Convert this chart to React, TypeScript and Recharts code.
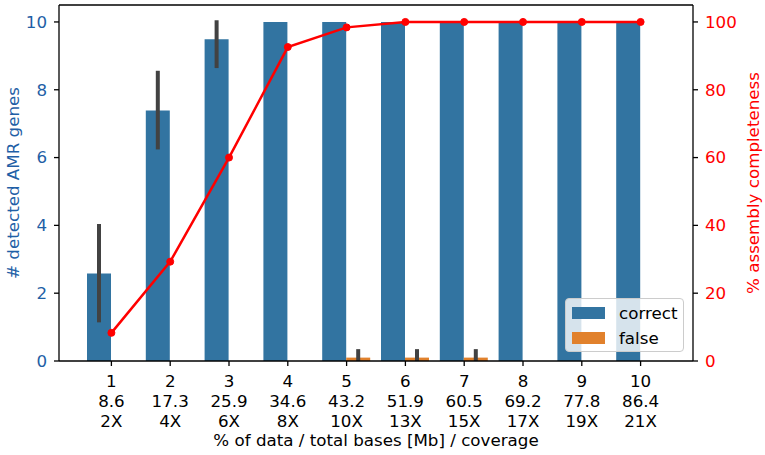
import React from 'react';
import {
  ComposedChart,
  Bar,
  Line,
  XAxis,
  YAxis,
  ErrorBar,
  ReferenceLine,
  Label,
} from 'recharts';

// values
const percentData = ['1', '2', '3', '4', '5', '6', '7', '8', '9', '10'];
const totalBases = ['8.6', '17.3', '25.9', '34.6', '43.2', '51.9', '60.5', '69.2', '77.8', '86.4'];
const coverage = ['2X', '4X', '6X', '8X', '10X', '13X', '15X', '17X', '19X', '21X'];

const correctGenes = [2.58, 7.39, 9.49, 10, 10, 10, 10, 10, 10, 10];
// [below, above] the mean
const correctErr = [[1.44, 1.46], [1.15, 1.17], [0.85, 0.56], [0, 0], [0, 0], [0, 0], [0, 0], [0, 0], [0, 0], [0, 0]];
const falseGenes = [0, 0, 0, 0, 0.1, 0.1, 0.1, 0, 0, 0];
const falseErr = [[0, 0], [0, 0], [0, 0], [0, 0], [0.1, 0.25], [0.1, 0.25], [0.1, 0.25], [0, 0], [0, 0], [0, 0]];
const completeness = [8.3, 29.3, 60.0, 92.6, 98.4, 100, 100, 100, 100, 100];

const leftTicks = [0, 2, 4, 6, 8, 10];
const rightTicks = [0, 20, 40, 60, 80, 100];

const data = percentData.map((p, i) => ({
  pct: p,
  correct: correctGenes[i],
  correctErr: correctErr[i],
  false: falseGenes[i],
  falseErr: falseErr[i],
  completeness: completeness[i],
}));

const BLUE = '#3274a1';
const ORANGE = '#e1812c';
const AXIS_BLUE = '#1f5fa6';
const RED = '#ff0000';
const FONT = '"DejaVu Sans", sans-serif';
const FS = 16.7;

function MultiLineTick(props: any) {
  const { x, y, payload } = props;
  const i = payload.index;
  return (
    <text x={x} y={y} textAnchor="middle" fill="#000" fontSize={FS} fontFamily={FONT}>
      <tspan x={x} dy={19}>{percentData[i]}</tspan>
      <tspan x={x} dy={20}>{totalBases[i]}</tspan>
      <tspan x={x} dy={20}>{coverage[i]}</tspan>
    </text>
  );
}

const legendItems = [
  { name: 'correct', color: BLUE },
  { name: 'false', color: ORANGE },
];

export default function App() {
  return (
    <div style={{ position: 'absolute', left: 0, top: 0, width: 765, height: 455, background: '#fff' }}>
      <ComposedChart
        width={765}
        height={455}
        data={data}
        margin={{ top: 5, right: 0, left: 0, bottom: 0 }}
        barGap={0}
      >
        <XAxis
          dataKey="pct"
          height={94}
          padding={{ left: 23, right: 23 }}
          tickSize={5}
          tickMargin={2}
          stroke="#000"
          strokeWidth={1.3}
          tick={<MultiLineTick />}
          interval={0}
        >
          <Label
            content={({ viewBox }: any) => (
              <text
                x={viewBox.x + viewBox.width / 2}
                y={viewBox.y + 85}
                textAnchor="middle"
                fontSize={FS}
                fontFamily={FONT}
                fill="#000"
              >
                % of data / total bases [Mb] / coverage
              </text>
            )}
          />
        </XAxis>
        <YAxis
          yAxisId="left"
          width={59}
          domain={[0, 10.5]}
          ticks={leftTicks}
          tickSize={5}
          tickMargin={7}
          stroke="#000"
          strokeWidth={1.3}
          tick={{ fill: AXIS_BLUE, fontSize: FS, fontFamily: FONT }}
        >
          <Label
            content={({ viewBox }: any) => {
              const cx = viewBox.x + 19;
              const cy = viewBox.y + viewBox.height / 2;
              return (
                <text
                  x={cx}
                  y={cy}
                  transform={`rotate(-90 ${cx} ${cy})`}
                  textAnchor="middle"
                  fontSize={FS}
                  fontFamily={FONT}
                  fill={AXIS_BLUE}
                >
                  # detected AMR genes
                </text>
              );
            }}
          />
        </YAxis>
        <YAxis
          yAxisId="right"
          orientation="right"
          width={72}
          domain={[0, 105]}
          ticks={rightTicks}
          tickSize={5}
          tickMargin={7}
          stroke="#000"
          strokeWidth={1.3}
          tick={{ fill: RED, fontSize: FS, fontFamily: FONT }}
        >
          <Label
            content={({ viewBox }: any) => {
              const cx = viewBox.x + 66;
              const cy = viewBox.y + viewBox.height / 2;
              return (
                <text
                  x={cx}
                  y={cy}
                  transform={`rotate(-90 ${cx} ${cy})`}
                  textAnchor="middle"
                  fontSize={FS}
                  fontFamily={FONT}
                  fill={RED}
                >
                  % assembly completeness
                </text>
              );
            }}
          />
        </YAxis>
        <ReferenceLine yAxisId="left" y={10.5} stroke="#000" strokeWidth={1.3} />
        <Bar yAxisId="left" dataKey="correct" fill={BLUE} barSize={24} isAnimationActive={false}>
          <ErrorBar dataKey="correctErr" direction="y" width={0} stroke="#424242" strokeWidth={4} />
        </Bar>
        <Bar yAxisId="left" dataKey="false" fill={ORANGE} barSize={24} isAnimationActive={false}>
          <ErrorBar dataKey="falseErr" direction="y" width={0} stroke="#424242" strokeWidth={4} />
        </Bar>
        <Line
          yAxisId="right"
          dataKey="completeness"
          type="linear"
          stroke={RED}
          strokeWidth={2.5}
          dot={{ r: 3.5, fill: RED, stroke: RED, strokeWidth: 1 }}
          isAnimationActive={false}
        />
      </ComposedChart>
      <div
        style={{
          position: 'absolute',
          left: 565,
          top: 298,
          width: 119,
          height: 54,
          boxSizing: 'border-box',
          border: '1px solid #cccccc',
          borderRadius: 4,
          background: 'rgba(255,255,255,0.8)',
          fontFamily: FONT,
          fontSize: FS,
        }}
      >
        {legendItems.map((it, i) => (
          <div
            key={it.name}
            style={{ position: 'absolute', left: 6, top: 7 + i * 25, height: 14, display: 'flex', alignItems: 'center' }}
          >
            <span style={{ display: 'inline-block', width: 33, height: 11.5, background: it.color }} />
            <span style={{ marginLeft: 14, lineHeight: '14px' }}>{it.name}</span>
          </div>
        ))}
      </div>
    </div>
  );
}
